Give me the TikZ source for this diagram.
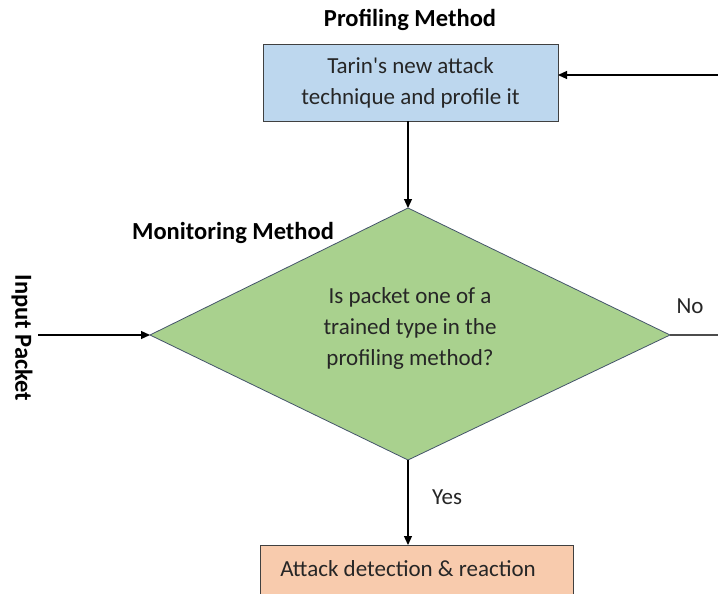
\documentclass[tikz,border=0pt]{standalone}
\usepackage{fontspec}
\setmainfont{Carlito}
\usetikzlibrary{arrows.meta}
\begin{document}
\begin{tikzpicture}[x=1pt,y=-1pt,
  txt/.style={font=\fontsize{23}{31}\selectfont, text=black!85},
  ttl/.style={font=\bfseries\fontsize{24.5}{28}\selectfont},
  conn/.style={line width=1.2pt, -{Triangle[length=9pt,width=8pt]}},
  bx/.style={draw=black!75, line width=0.8pt}]
\useasboundingbox (0,0) rectangle (718,594);
\fill[white] (0,0) rectangle (718,594);
\definecolor{blu}{HTML}{BDD7EE}
\definecolor{grn}{HTML}{A9D18E}
\definecolor{org}{HTML}{F8CBAD}
\definecolor{dia}{HTML}{44546A}
% top box
\draw[bx, fill=blu] (263,44) rectangle (558,121);
\node[txt, align=center] (prof) at (410.5,82.5) {Tarin\textquotesingle s new attack\\technique and profile it};
\coordinate (profR) at (558,75);
\coordinate (profB) at (408,121);
\node[ttl] (ptitle) at (410,20) {Profiling Method};
% diamond
\draw[fill=grn, draw=dia, line width=0.8pt] (408,208) coordinate (dT) -- (670,335) coordinate (dR) -- (408,460) coordinate (dB) -- (150,335) coordinate (dL) -- cycle;
\node[txt, align=center] (q) at (410,328) {Is packet one of a\\trained type in the\\profiling method?};
\node[ttl] (mtitle) at (233,233) {Monitoring Method};
% bottom box
\draw[bx, fill=org] (260,545) rectangle (573,600);
\node[txt] (att) at (408,569) {Attack detection \& reaction};
\coordinate (attT) at (408,545);
% input
\node[ttl, rotate=-90] (inp) at (22,338) {Input Packet};
\coordinate (inS) at (38,335);
\coordinate (topS) at (718,75);
\coordinate (noE) at (718,335);
% connectors
\draw[conn] (topS) -- (profR);
\draw[conn] (profB) -- (dT);
\draw[conn] (inS) -- (dL);
\draw[line width=1.2pt, draw=black!70] (dR) -- (noE);
\draw[conn] (dB) -- (attT);
\node[txt] (no) at (690,306) {No};
\node[txt] (yes) at (447,497) {Yes};
\end{tikzpicture}
\end{document}
